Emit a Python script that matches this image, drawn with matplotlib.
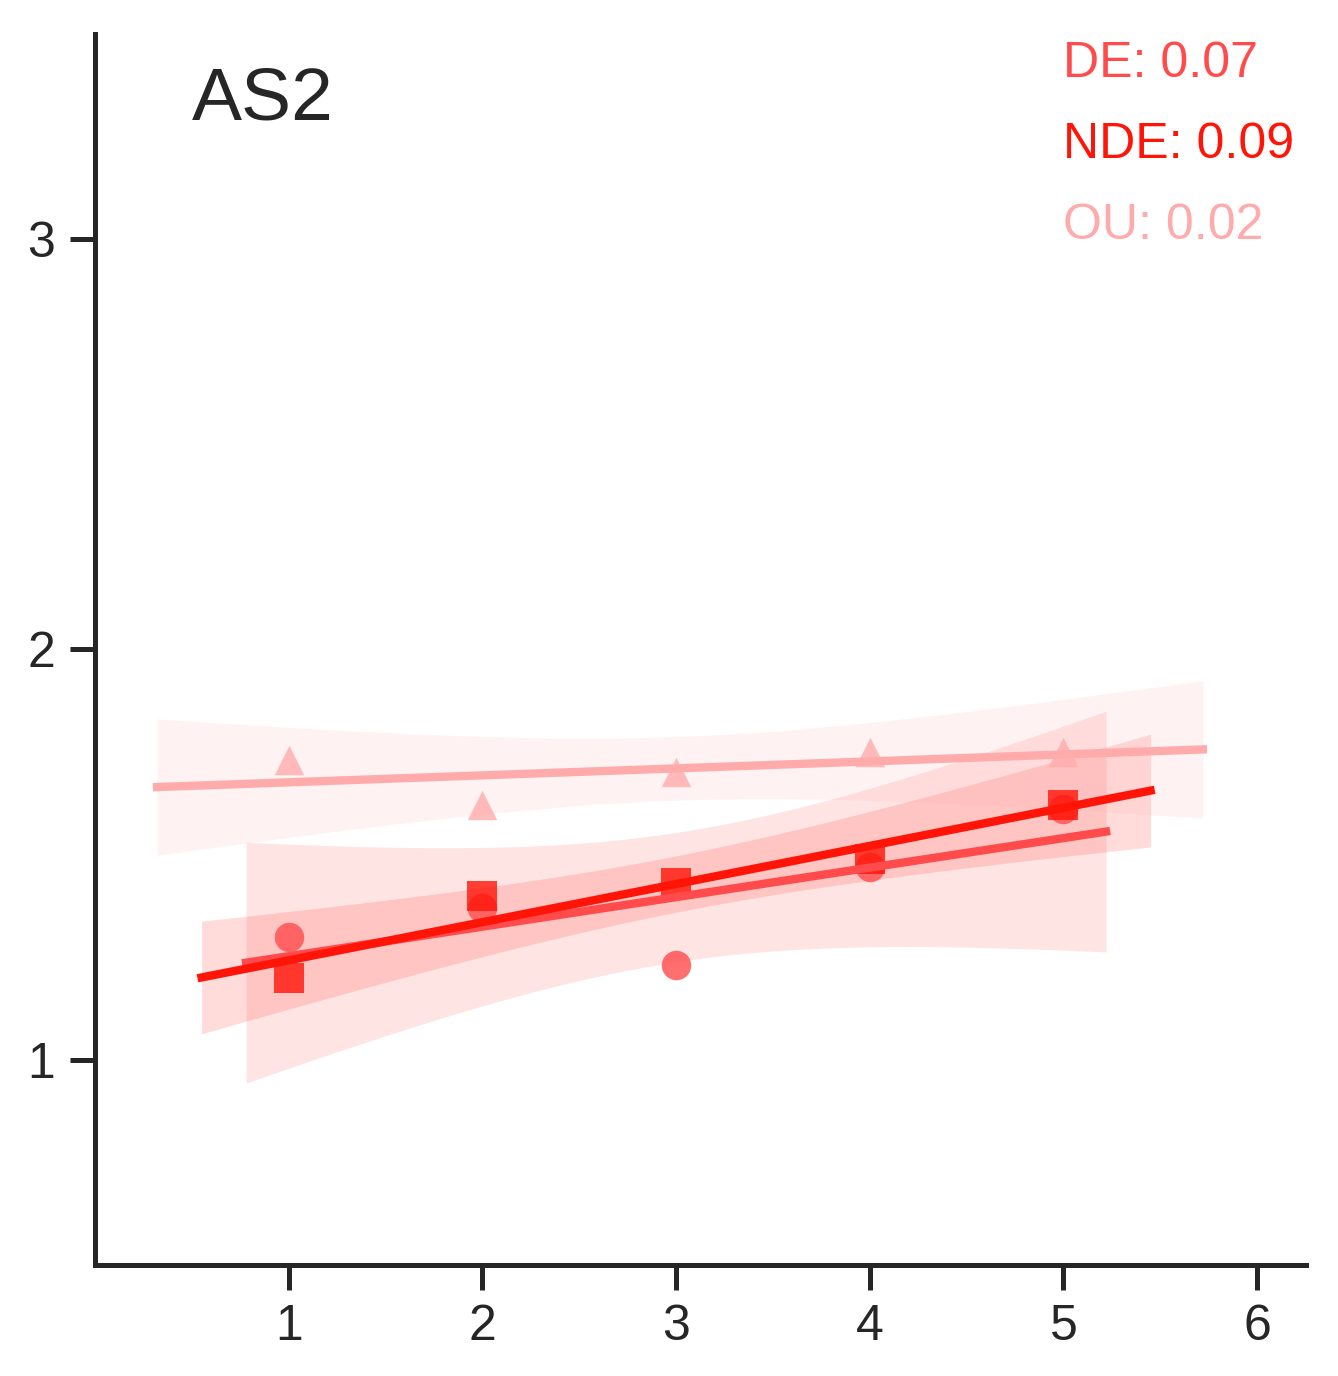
import numpy as np
import matplotlib
matplotlib.use("Agg")
import matplotlib.pyplot as plt

plt.rcParams['font.family'] = ['Liberation Sans', 'DejaVu Sans']

x_vals = [1, 2, 3, 4, 5]
de_vals = [1.30, 1.37, 1.23, 1.47, 1.61]
nde_vals = [1.20, 1.40, 1.43, 1.49, 1.62]
ou_vals = [1.73, 1.62, 1.70, 1.75, 1.75]
labels = ["DE", "NDE", "OU"]

series = [
    # name, values, color, marker, line extent
    ("DE", de_vals, "#ff4b4b", "o", (0.78, 5.22)),
    ("NDE", nde_vals, "#ff1408", "s", (0.55, 5.45)),
    ("OU", ou_vals, "#ffabab", "^", (0.32, 5.72)),
]

fig = plt.figure(figsize=(1339 / 300, 1376 / 300), dpi=300)
ax = fig.add_axes([0.071, 0.081, 0.904, 0.894])

x = np.array(x_vals, dtype=float)
t95 = 3.182  # t quantile, df=3
for i, (name, vals, color, marker, ext) in enumerate(series):
    y = np.array(vals)
    slope, icpt = np.polyfit(x, y, 1)
    resid = y - (slope * x + icpt)
    s = np.sqrt(np.sum(resid ** 2) / (len(x) - 2))
    xs = np.linspace(ext[0], ext[1], 100)
    ys = slope * xs + icpt
    se = s * np.sqrt(1 / len(x) + (xs - x.mean()) ** 2 / np.sum((x - x.mean()) ** 2))
    ax.fill_between(xs, ys - t95 * se, ys + t95 * se, color=color, alpha=0.15, lw=0)
    ax.scatter(x, y, color=color, marker=marker, s=50, alpha=0.8, lw=0, zorder=3)
    ax.plot(xs, ys, color=color, lw=2, zorder=4)
    ax.text(0.80, 0.995 - i * 0.066, f"{name}: {slope:.2f}", transform=ax.transAxes,
            color=color, fontsize=12, va="top")

ax.text(0.08, 0.975, "AS2", transform=ax.transAxes, fontsize=18, va="top", color="#262626")
ax.set_xlim(0, 6.25)
ax.set_ylim(0.5, 3.5)
ax.set_xticks([1, 2, 3, 4, 5, 6])
ax.set_yticks([1, 2, 3])
for sp in ["top", "right"]:
    ax.spines[sp].set_visible(False)
for sp in ["left", "bottom"]:
    ax.spines[sp].set_color("#262626")
    ax.spines[sp].set_linewidth(1.2)
ax.tick_params(labelsize=12, colors="#262626", width=1.2, length=6)

fig.savefig("out.png", dpi=300)
